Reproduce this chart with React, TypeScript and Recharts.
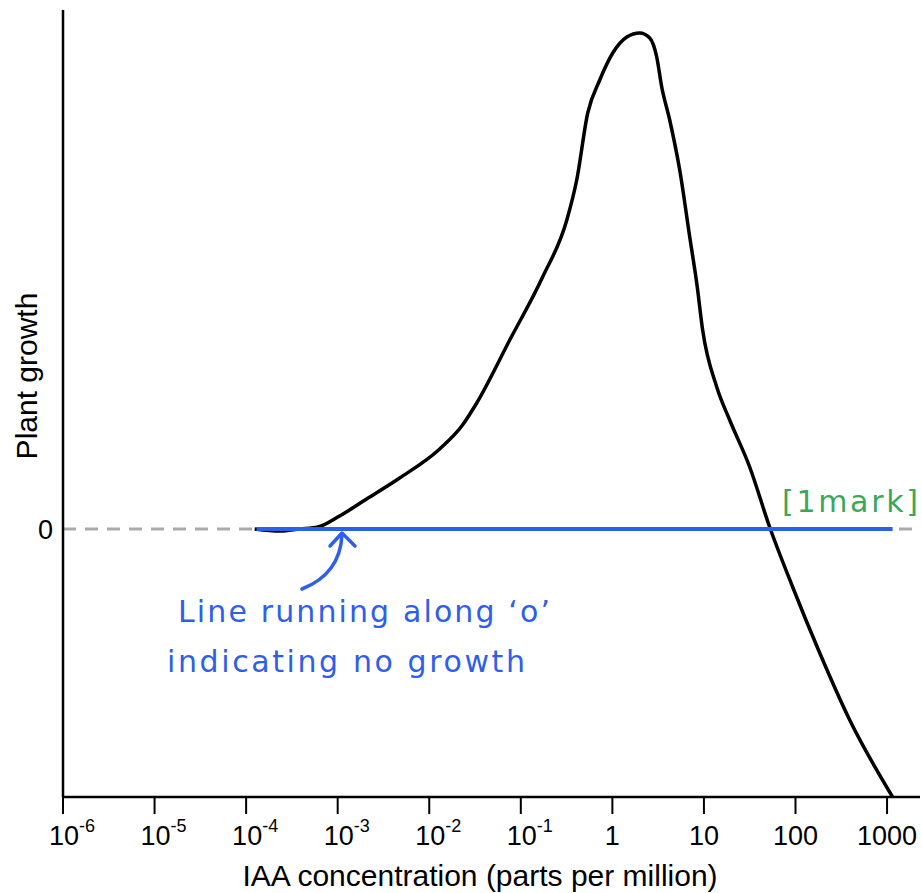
import { LineChart, Line, XAxis, YAxis, ReferenceLine, Label } from "recharts"

// IAA concentration (ppm) along the response curve
const curveConc = [
  1.24e-4, 2.33e-4, 3.85e-4, 6.1e-4, 1.05e-3, 2.07e-3, 4.75e-3, 0.013, 0.0231, 0.033, 0.0757, 0.173, 0.318,
  0.408, 0.538, 0.728, 1.01, 1.44, 1.99, 2.56, 3.05, 3.46, 4.23, 5.44, 7.0, 8.4, 9.68, 13.8, 19.1, 31.6, 52.2,
  93.1, 184, 391, 1150,
]
const curveGrowth = [
  0, -2, 0, 2, 13, 30, 51, 80, 104, 126, 189, 252, 309, 349, 416, 449, 476, 492, 496, 491, 472, 442, 409, 359,
  292, 244, 199, 142, 109, 62, 2, -58, -124, -191, -268,
]

// hand-drawn "no growth" line
const flatConc = [1.3e-4, 1150]
const flatGrowth = [0, 0]

const xTicks = [1e-6, 1e-5, 1e-4, 1e-3, 1e-2, 1e-1, 1, 10, 100, 1000]
const xTickBase = ["10", "10", "10", "10", "10", "10", "1", "10", "100", "1000"]
const xTickExp = ["-6", "-5", "-4", "-3", "-2", "-1", "", "", "", ""]

const curveData = curveConc.map((x, i) => ({ x, y: curveGrowth[i] }))
const flatData = flatConc.map((x, i) => ({ x, y: flatGrowth[i] }))

const axisFont = "'Liberation Sans', Arial, sans-serif"
const handFont = "'DejaVu Sans', sans-serif"
const BLUE = "#2f5fe9"
const GREEN = "#3ba858"

function XTick(props: any) {
  const { x, payload } = props
  const i = xTicks.indexOf(payload.value)
  const exp = xTickExp[i]
  if (exp) {
    return (
      <text x={x - 14} y={845} fontFamily={axisFont} fontSize={27} fill="#000" textAnchor="start">
        {xTickBase[i]}
        <tspan fontSize={18} dy={-13}>
          {exp}
        </tspan>
      </text>
    )
  }
  return (
    <text x={x} y={845} fontFamily={axisFont} fontSize={27} fill="#000" textAnchor="middle">
      {xTickBase[i]}
    </text>
  )
}

function YTick(props: any) {
  const { y, payload } = props
  return (
    <text x={53} y={y} dy={10} fontFamily={axisFont} fontSize={27} fill="#000" textAnchor="end">
      {payload.value}
    </text>
  )
}

export default function App() {
  return (
    <div style={{ position: "absolute", left: 0, top: 0, width: 922, height: 893, background: "#fff" }}>
      <LineChart width={922} height={893} margin={{ top: 10, right: 2, left: 0, bottom: 0 }}>
        <XAxis
          dataKey="x"
          type="number"
          scale="log"
          domain={[1e-6, 2290]}
          ticks={xTicks}
          allowDataOverflow
          height={96}
          tickSize={17}
          tick={<XTick />}
          axisLine={{ stroke: "#000", strokeWidth: 2.5 }}
          tickLine={{ stroke: "#000", strokeWidth: 2 }}
        >
          <Label
            content={() => (
              <text x={480} y={886} fontFamily={axisFont} fontSize={30} fill="#000" textAnchor="middle">
                IAA concentration (parts per million)
              </text>
            )}
          />
        </XAxis>
        <YAxis
          type="number"
          domain={[-268, 519]}
          ticks={[0]}
          width={63}
          tickLine={false}
          tick={<YTick />}
          axisLine={{ stroke: "#000", strokeWidth: 2.5 }}
        >
          <Label
            content={() => (
              <text
                transform="translate(37,376) rotate(-90)"
                fontFamily={axisFont}
                fontSize={30}
                fill="#000"
                textAnchor="middle"
              >
                Plant growth
              </text>
            )}
          />
        </YAxis>
        <ReferenceLine y={0} stroke="#aaaaaa" strokeWidth={3} strokeDasharray="13 9" />
        <Line
          data={curveData}
          dataKey="y"
          type="monotone"
          stroke="#000"
          strokeWidth={3.5}
          dot={false}
          isAnimationActive={false}
        />
        <Line
          data={flatData}
          dataKey="y"
          type="linear"
          stroke={BLUE}
          strokeWidth={4}
          dot={false}
          isAnimationActive={false}
        />
      </LineChart>
      <svg
        width={922}
        height={893}
        style={{ position: "absolute", left: 0, top: 0, pointerEvents: "none" }}
      >
        <path d="M302,589 Q340,574 342,535" fill="none" stroke={BLUE} strokeWidth={3.5} strokeLinecap="round" />
        <path
          d="M330,546 L342,533 L355,546"
          fill="none"
          stroke={BLUE}
          strokeWidth={3.5}
          strokeLinecap="round"
          strokeLinejoin="round"
        />
        <text x={178} y={622} fontFamily={handFont} fontSize={30} fill={BLUE} textLength={372}>
          Line running along ‘o’
        </text>
        <text x={167} y={672} fontFamily={handFont} fontSize={30} fill={BLUE} textLength={358}>
          indicating no growth
        </text>
        <text x={782} y={512} fontFamily={handFont} fontSize={30} fill={GREEN} textLength={136}>
          [1mark]
        </text>
      </svg>
    </div>
  )
}
